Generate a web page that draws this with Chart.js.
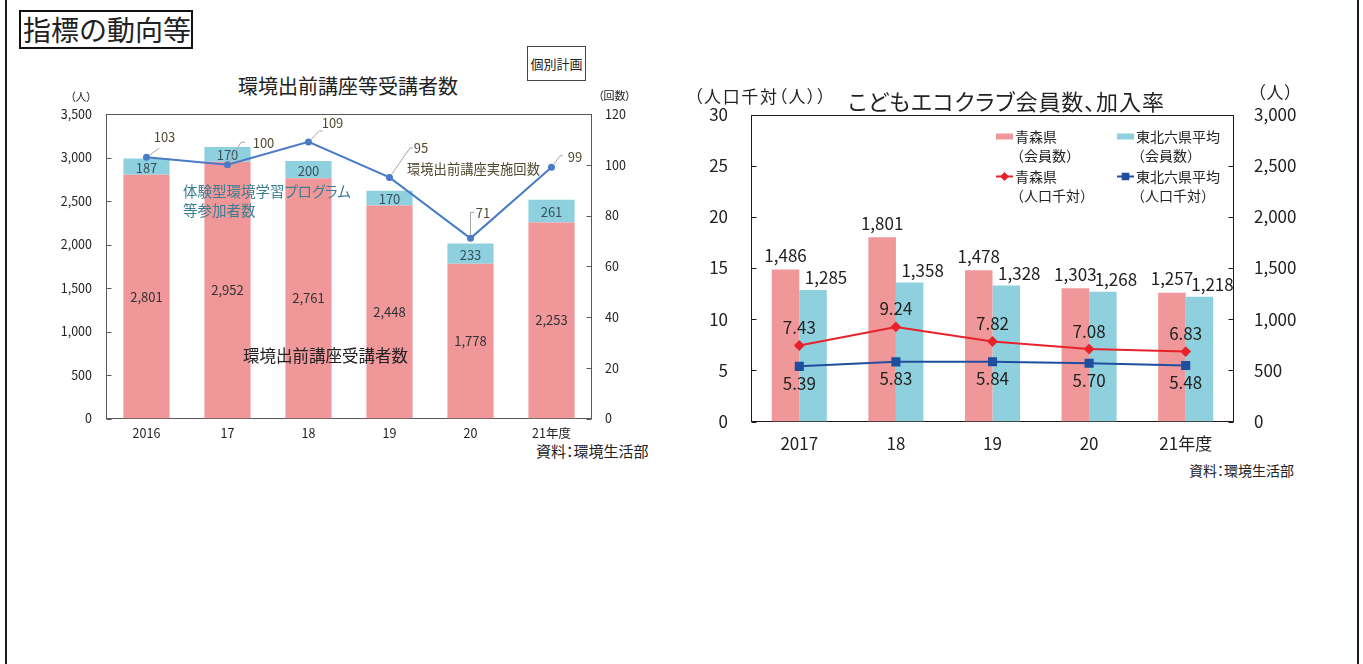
<!DOCTYPE html>
<html lang="ja">
<head>
<meta charset="utf-8">
<title>指標の動向等</title>
<script src="https://cdn.jsdelivr.net/npm/chart.js@4.4.1/dist/chart.umd.min.js"></script>
<style>
  html, body { margin: 0; padding: 0; background: #fff; }
  #page {
    position: relative; width: 1363px; height: 664px; overflow: hidden; background: #fff;
    font-family: "Noto Sans CJK JP", sans-serif; color: #222;
  }
  .t { position: absolute; white-space: nowrap; line-height: 1; font-feature-settings: "palt"; z-index: 2; }
  .edge { position: absolute; top: 0; bottom: 0; width: 2px; background: #231815; }
  canvas { position: absolute; z-index: 1; }
  #header {
    left: 19px; top: 10px; width: 174px; height: 39px; box-sizing: border-box;
    border: 2px solid #111; font-size: 28px; line-height: 35px; padding-left: 2px;
    font-feature-settings: normal;
  }
  #plan {
    left: 527px; top: 46px; width: 59px; height: 35px; box-sizing: border-box;
    border: 1px solid #444; font-size: 13px; line-height: 33px; text-align: center;
    font-feature-settings: normal;
  }
</style>
</head>
<body>
<div id="page">
  <div class="edge" style="left:5px"></div>
  <div class="edge" style="left:1357px"></div>

  <canvas id="lecture" width="600" height="340" style="left:40px;top:100px;"></canvas>
  <canvas id="club" width="640" height="360" style="left:680px;top:100px;"></canvas>

  <div class="t" id="header">指標の動向等</div>
  <div class="t" id="plan">個別計画</div>

  <!-- left chart texts -->
  <div class="t" style="left:238px;top:76px;font-size:20px;">環境出前講座等受講者数</div>
  <div class="t" style="left:70px;top:91px;font-size:11px;">（人）</div>
  <div class="t" style="left:598px;top:90px;font-size:11px;">（回数）</div>
  <div class="t" style="left:183px;top:184px;font-size:14.5px;color:#3B7D91;">体験型環境学習プログラム</div>
  <div class="t" style="left:183px;top:203px;font-size:14.5px;color:#3B7D91;">等参加者数</div>
  <div class="t" style="left:407px;top:162px;font-size:13.3px;color:#4F4A30;">環境出前講座実施回数</div>
  <div class="t" style="left:243px;top:347px;font-size:16.5px;">環境出前講座受講者数</div>
  <div class="t" style="left:536px;top:443px;font-size:15px;">資料：環境生活部</div>

  <!-- right chart texts -->
  <div class="t" style="left:848px;top:89px;font-size:22px;letter-spacing:0.9px;">こどもエコクラブ会員数、加入率</div>
  <div class="t" style="left:694px;top:87px;font-size:17px;letter-spacing:1.6px;">（人口千対（人））</div>
  <div class="t" style="left:1257px;top:83px;font-size:17px;letter-spacing:1px;">（人）</div>
  <div class="t" style="left:1189px;top:463px;font-size:14px;">資料：環境生活部</div>
</div>

<script>
// ---- data: 環境出前講座等受講者数 ----
const LECTURE_YEARS = ['2016', '17', '18', '19', '20', '21年度'];
const LECTURE_ATTENDEES = [2801, 2952, 2761, 2448, 1778, 2253];
const PROGRAM_PARTICIPANTS = [187, 170, 200, 170, 233, 261];
const LECTURE_COUNT = [103, 100, 109, 95, 71, 99];
const LECTURE_Y = { max: 3500, step: 500 };
const LECTURE_Y1 = { max: 120, step: 20 };

// ---- data: こどもエコクラブ会員数、加入率 ----
const CLUB_YEARS = ['2017', '18', '19', '20', '21年度'];
const AOMORI_MEMBERS = [1486, 1801, 1478, 1303, 1257];
const TOHOKU_MEMBERS = [1285, 1358, 1328, 1268, 1218];
const AOMORI_RATE = [7.43, 9.24, 7.82, 7.08, 6.83];
const TOHOKU_RATE = [5.39, 5.83, 5.84, 5.70, 5.48];
const CLUB_Y = { max: 30, step: 5 };
const CLUB_Y1 = { max: 3000, step: 500 };

const PINK = '#F0979A';
const CYAN = '#8FD0DF';
const LINE_BLUE = '#4A7BC6';
const RED = '#E8222B';
const NAVY = '#1F4E9E';
const NUM_FONT = '"Noto Sans CJK JP", sans-serif';
const JP_FONT = '"Noto Sans CJK JP", sans-serif';

// label placement for 実施回数 (offsets from the point: label centre, leader corner, horizontal run)
const COUNT_LABEL_POS = [
  { dx: 18, dy: -20, lx: 13, ly: -9, h: 0 },
  { dx: 36, dy: -22, lx: 13.5, ly: -22.5, h: 4 },
  { dx: 24, dy: -19, lx: 11, ly: -11, h: 3 },
  { dx: 31.5, dy: -29, lx: 20.5, ly: -29.5, h: 3 },
  { dx: 12.5, dy: -25, lx: 0, ly: -26, h: 4 },
  { dx: 23.5, dy: -10, lx: 8.5, ly: -11.5, h: 3 },
];

const fmt = (v) => v.toLocaleString('en-US');

// fixed axis sizes so the plot box lands where the original has it
function fixWidth(w) {
  return (s) => { s.width = w; s.paddingTop = 0; s.paddingBottom = 0; };
}
function fixHeight(h) {
  return (s) => { s.height = h; s.paddingLeft = 0; s.paddingRight = 0; };
}

function innerTicks(ctx, scale, x, dir, len) {
  scale.ticks.forEach((t) => {
    const py = Math.round(scale.getPixelForValue(t.value)) + 0.5;
    ctx.beginPath();
    ctx.moveTo(x, py);
    ctx.lineTo(x + dir * len, py);
    ctx.stroke();
  });
}

function drawFrame(chart, color) {
  const { ctx, chartArea: a } = chart;
  ctx.save();
  ctx.strokeStyle = color;
  ctx.lineWidth = 1;
  const l = Math.round(a.left) + 0.5;
  const r = Math.round(a.right) - 0.5;
  const t = Math.round(a.top) + 0.5;
  const b = Math.round(a.bottom) - 0.5;
  ctx.strokeRect(l, t, r - l, b - t);
  innerTicks(ctx, chart.scales.y, l, 1, 5);
  innerTicks(ctx, chart.scales.y1, r, -1, 5);
  ctx.restore();
}

function text(ctx, str, x, y, font, color, align) {
  ctx.font = font;
  ctx.fillStyle = color;
  ctx.textAlign = align || 'center';
  ctx.textBaseline = 'middle';
  ctx.fillText(str, x, y);
}

// ---------- left chart ----------
const lecturePlugin = {
  id: 'lectureDecor',
  beforeDatasetsDraw(chart) {
    drawFrame(chart, '#595959');
  },
  afterDatasetsDraw(chart) {
    const { ctx } = chart;
    ctx.save();
    const font = `13px ${NUM_FONT}`;
    chart.getDatasetMeta(1).data.forEach((bar, i) => {
      text(ctx, fmt(LECTURE_ATTENDEES[i]), bar.x, (bar.y + bar.base) / 2, font, '#333');
    });
    chart.getDatasetMeta(2).data.forEach((bar, i) => {
      text(ctx, fmt(PROGRAM_PARTICIPANTS[i]), bar.x, (bar.y + bar.base) / 2 + 1, font, '#36525E');
    });
    ctx.strokeStyle = '#A6A6A6';
    ctx.lineWidth = 1;
    chart.getDatasetMeta(0).data.forEach((pt, i) => {
      const p = COUNT_LABEL_POS[i];
      const len = Math.hypot(p.lx, p.ly) || 1;
      ctx.beginPath();
      ctx.moveTo(pt.x + (p.lx / len) * 3, pt.y + (p.ly / len) * 3);
      ctx.lineTo(pt.x + p.lx, pt.y + p.ly);
      if (p.h) ctx.lineTo(pt.x + p.lx + p.h, pt.y + p.ly);
      ctx.stroke();
      text(ctx, String(LECTURE_COUNT[i]), pt.x + p.dx, pt.y + p.dy, font, '#4F4A30');
    });
    ctx.restore();
  },
};

new Chart(document.getElementById('lecture'), {
  type: 'bar',
  data: {
    labels: LECTURE_YEARS,
    datasets: [
      {
        type: 'line',
        label: '環境出前講座実施回数',
        data: LECTURE_COUNT,
        yAxisID: 'y1',
        borderColor: LINE_BLUE,
        backgroundColor: LINE_BLUE,
        borderWidth: 2,
        pointRadius: 2.5,
        tension: 0,
        order: 0,
      },
      {
        label: '環境出前講座受講者数',
        data: LECTURE_ATTENDEES,
        backgroundColor: PINK,
        stack: 'people',
        yAxisID: 'y',
        order: 1,
      },
      {
        label: '体験型環境学習プログラム等参加者数',
        data: PROGRAM_PARTICIPANTS,
        backgroundColor: CYAN,
        stack: 'people',
        yAxisID: 'y',
        order: 1,
      },
    ],
  },
  options: {
    responsive: false,
    animation: false,
    layout: { padding: { top: 14, left: 0, right: 0, bottom: 0 } },
    datasets: { bar: { barPercentage: 0.57, categoryPercentage: 1 } },
    scales: {
      x: {
        stacked: true,
        grid: { display: false, drawTicks: false },
        border: { display: false },
        ticks: { font: { size: 12.5, family: NUM_FONT }, color: '#222', padding: 7, maxRotation: 0 },
        afterFit: fixHeight(21.5),
      },
      y: {
        stacked: true,
        min: 0,
        max: LECTURE_Y.max,
        grid: { display: false, drawTicks: false },
        border: { display: false },
        ticks: { stepSize: LECTURE_Y.step, callback: (v) => fmt(v), font: { size: 12.5, family: NUM_FONT }, color: '#222', padding: 14 },
        afterFit: fixWidth(66),
      },
      y1: {
        position: 'right',
        min: 0,
        max: LECTURE_Y1.max,
        grid: { display: false, drawTicks: false },
        border: { display: false },
        ticks: { stepSize: LECTURE_Y1.step, font: { size: 12.5, family: NUM_FONT }, color: '#222', padding: 13 },
        afterFit: fixWidth(48),
      },
    },
    plugins: { legend: { display: false }, tooltip: { enabled: false } },
  },
  plugins: [lecturePlugin],
});

// ---------- right chart ----------
const CLUB_LABEL_OFFSET = {
  aomoriBar: { dx: 0, dy: -14 },
  tohokuBar: { dx: 13, dy: -12 },
  aomoriRate: { dx: 0, dy: -18 },
  tohokuRate: { dx: 0, dy: 17 },
};

const clubPlugin = {
  id: 'clubDecor',
  beforeDatasetsDraw(chart) {
    drawFrame(chart, '#231815');
  },
  afterDatasetsDraw(chart) {
    const { ctx } = chart;
    ctx.save();
    const font = `17px ${NUM_FONT}`;
    const o = CLUB_LABEL_OFFSET;
    chart.getDatasetMeta(2).data.forEach((bar, i) => {
      text(ctx, fmt(AOMORI_MEMBERS[i]), bar.x + o.aomoriBar.dx, bar.y + o.aomoriBar.dy, font, '#222');
    });
    chart.getDatasetMeta(3).data.forEach((bar, i) => {
      text(ctx, fmt(TOHOKU_MEMBERS[i]), bar.x + o.tohokuBar.dx, bar.y + o.tohokuBar.dy, font, '#222');
    });
    chart.getDatasetMeta(0).data.forEach((pt, i) => {
      text(ctx, AOMORI_RATE[i].toFixed(2), pt.x + o.aomoriRate.dx, pt.y + o.aomoriRate.dy, font, '#222');
    });
    chart.getDatasetMeta(1).data.forEach((pt, i) => {
      text(ctx, TOHOKU_RATE[i].toFixed(2), pt.x + o.tohokuRate.dx, pt.y + o.tohokuRate.dy, font, '#222');
    });

    // legend (2 x 2), swatches taken from the datasets
    const ds = chart.data.datasets;
    const lf = `14px ${JP_FONT}`;
    const cols = [316, 437];
    const rows = [36.5, 55.5, 76.5, 96];
    const items = [
      { d: ds[2], col: 0, row: 0, lines: ['青森県', '（会員数）'] },
      { d: ds[3], col: 1, row: 0, lines: ['東北六県平均', '（会員数）'] },
      { d: ds[0], col: 0, row: 2, lines: ['青森県', '（人口千対）'] },
      { d: ds[1], col: 1, row: 2, lines: ['東北六県平均', '（人口千対）'] },
    ];
    items.forEach((it) => {
      const x = cols[it.col];
      const y = rows[it.row];
      if (it.d.type === 'line') {
        ctx.strokeStyle = it.d.borderColor;
        ctx.lineWidth = 2;
        ctx.beginPath();
        ctx.moveTo(x, y);
        ctx.lineTo(x + 17, y);
        ctx.stroke();
        ctx.fillStyle = it.d.backgroundColor;
        Chart.helpers.drawPoint(ctx, {
          pointStyle: it.d.pointStyle,
          radius: it.d.pointRadius - 1,
          borderWidth: 1,
        }, x + 8.5, y);
      } else {
        ctx.fillStyle = it.d.backgroundColor;
        ctx.fillRect(x, y - 3, 17, 6);
      }
      text(ctx, it.lines[0], x + 19, y, lf, '#222', 'left');
      // full-width opening bracket carries its blank half on the left
      text(ctx, it.lines[1], x + 14, rows[it.row + 1], lf, '#222', 'left');
    });
    ctx.restore();
  },
};

new Chart(document.getElementById('club'), {
  type: 'bar',
  data: {
    labels: CLUB_YEARS,
    datasets: [
      {
        type: 'line',
        label: '青森県（人口千対）',
        data: AOMORI_RATE,
        yAxisID: 'y',
        borderColor: RED,
        backgroundColor: RED,
        borderWidth: 2,
        pointStyle: 'rectRot',
        pointRadius: 4,
        tension: 0,
        order: 0,
      },
      {
        type: 'line',
        label: '東北六県平均（人口千対）',
        data: TOHOKU_RATE,
        yAxisID: 'y',
        borderColor: NAVY,
        backgroundColor: NAVY,
        borderWidth: 2,
        pointStyle: 'rect',
        pointRadius: 5,
        tension: 0,
        order: 0,
      },
      {
        label: '青森県（会員数）',
        data: AOMORI_MEMBERS,
        backgroundColor: PINK,
        yAxisID: 'y1',
        order: 1,
      },
      {
        label: '東北六県平均（会員数）',
        data: TOHOKU_MEMBERS,
        backgroundColor: CYAN,
        yAxisID: 'y1',
        order: 1,
      },
    ],
  },
  options: {
    responsive: false,
    animation: false,
    layout: { padding: { top: 14.5, left: 0, right: 0, bottom: 0 } },
    datasets: { bar: { barPercentage: 1, categoryPercentage: 0.57 } },
    scales: {
      x: {
        grid: { display: false, drawTicks: false },
        border: { display: false },
        ticks: { font: { size: 17, family: NUM_FONT }, color: '#222', padding: 12, maxRotation: 0 },
        afterFit: fixHeight(38.5),
      },
      y: {
        min: 0,
        max: CLUB_Y.max,
        grid: { display: false, drawTicks: false },
        border: { display: false },
        ticks: { stepSize: CLUB_Y.step, font: { size: 17, family: NUM_FONT }, color: '#222', padding: 23 },
        afterFit: fixWidth(71),
      },
      y1: {
        position: 'right',
        min: 0,
        max: CLUB_Y1.max,
        grid: { display: false, drawTicks: false },
        border: { display: false },
        ticks: { stepSize: CLUB_Y1.step, callback: (v) => fmt(v), font: { size: 17, family: NUM_FONT }, color: '#222', padding: 20 },
        afterFit: fixWidth(86),
      },
    },
    plugins: { legend: { display: false }, tooltip: { enabled: false } },
  },
  plugins: [clubPlugin],
});
</script>
</body>
</html>
